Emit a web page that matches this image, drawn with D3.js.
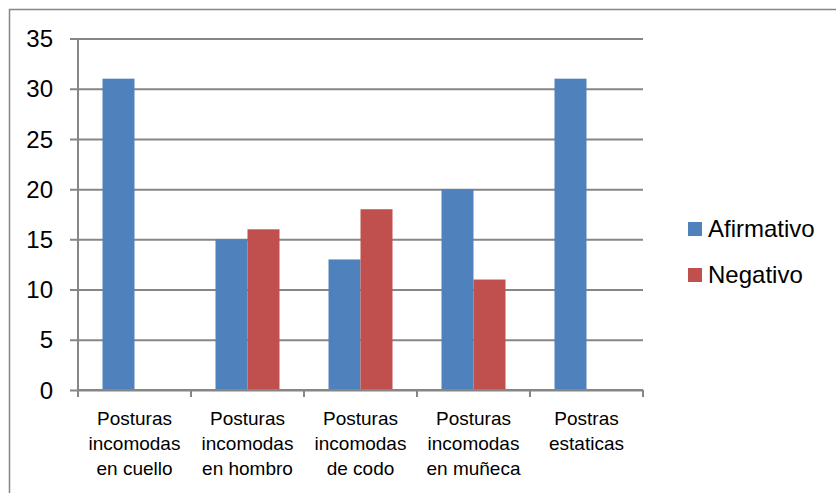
<!DOCTYPE html>
<html>
<head>
<meta charset="utf-8">
<script src="https://cdn.jsdelivr.net/npm/d3@7"></script>
<style>
  html, body { margin: 0; padding: 0; background: #fff; }
  svg { display: block; }
  text { font-family: "Liberation Sans", Arial, sans-serif; fill: #000; }
</style>
</head>
<body>
<svg id="chart" width="836" height="493"></svg>
<script>
// Chart data
const categories = [
  ["Posturas", "incomodas", "en cuello"],
  ["Posturas", "incomodas", "en hombro"],
  ["Posturas", "incomodas", "de codo"],
  ["Posturas", "incomodas", "en muñeca"],
  ["Postras", "estaticas"]
];
const seriesNames = ["Afirmativo", "Negativo"];
const afirmativo = [31, 15, 13, 20, 31];
const negativo = [0, 16, 18, 11, 0];
const yTicks = [0, 5, 10, 15, 20, 25, 30, 35];

const colors = ["#4F81BD", "#C0504D"];
const gridColor = "#868686";

const svg = d3.select("#chart");

// Outer frame
svg.append("rect")
  .attr("x", 9.5).attr("y", 9.5)
  .attr("width", 840).attr("height", 500)
  .attr("fill", "none")
  .attr("stroke", gridColor)
  .attr("stroke-width", 1.5);

const plot = { left: 78, right: 643, top: 38.5, bottom: 390 };

const x = d3.scaleBand()
  .domain(d3.range(categories.length))
  .range([plot.left, plot.right])
  .paddingInner(0).paddingOuter(0);

const y = d3.scaleLinear()
  .domain([0, 35])
  .range([plot.bottom, plot.top]);

const barW = 32;
const groupW = barW * seriesNames.length;
const sub = d3.scaleBand()
  .domain(d3.range(seriesNames.length))
  .range([0, groupW]);

// Horizontal gridlines with left tick marks
const yAxis = d3.axisLeft(y)
  .tickValues(yTicks)
  .tickSize(-(plot.right - plot.left))
  .tickSizeOuter(0)
  .tickPadding(25)
  .tickFormat(d3.format("d"));

const gy = svg.append("g")
  .attr("transform", `translate(${plot.left},0)`)
  .call(yAxis);
gy.select(".domain").remove();
gy.selectAll(".tick line")
  .attr("x1", -8)
  .attr("stroke", gridColor)
  .attr("stroke-width", 2);
gy.selectAll(".tick text")
  .style("font-size", "24px")
  .attr("dy", "0.34em");

// Vertical axis line
svg.append("line")
  .attr("x1", plot.left).attr("x2", plot.left)
  .attr("y1", plot.top).attr("y2", plot.bottom)
  .attr("stroke", gridColor).attr("stroke-width", 2);

// Bars
const values = [afirmativo, negativo];
const groups = svg.append("g");
values.forEach((vals, s) => {
  groups.selectAll(null)
    .data(vals)
    .enter()
    .append("rect")
    .attr("x", (d, i) => x(i) + (x.bandwidth() - groupW) / 2 + sub(s))
    .attr("width", sub.bandwidth())
    .attr("y", d => y(d))
    .attr("height", d => y(0) - y(d))
    .attr("fill", colors[s]);
});

// Category axis
const boundaries = d3.range(categories.length + 1).map(i => plot.left + i * x.step());
svg.append("line")
  .attr("x1", plot.left).attr("x2", plot.right)
  .attr("y1", plot.bottom).attr("y2", plot.bottom)
  .attr("stroke", gridColor).attr("stroke-width", 2);
svg.selectAll(".xtick")
  .data(boundaries)
  .enter()
  .append("line")
  .attr("x1", d => d).attr("x2", d => d)
  .attr("y1", plot.bottom).attr("y2", plot.bottom + 7)
  .attr("stroke", gridColor).attr("stroke-width", 2);

const labels = svg.append("g");
categories.forEach((lines, i) => {
  const t = labels.append("text")
    .attr("text-anchor", "middle")
    .style("font-size", "19px");
  lines.forEach((ln, j) => {
    t.append("tspan")
      .attr("x", x(i) + x.bandwidth() / 2)
      .attr("y", 425 + j * 25)
      .text(ln);
  });
});

// Legend
const legend = svg.append("g");
seriesNames.forEach((name, s) => {
  const ly = 222 + s * 46;
  legend.append("rect")
    .attr("x", 688).attr("y", ly)
    .attr("width", 14).attr("height", 14)
    .attr("fill", colors[s]);
  legend.append("text")
    .attr("x", 708).attr("y", ly + 15)
    .style("font-size", "24px")
    .text(name);
});
</script>
</body>
</html>
